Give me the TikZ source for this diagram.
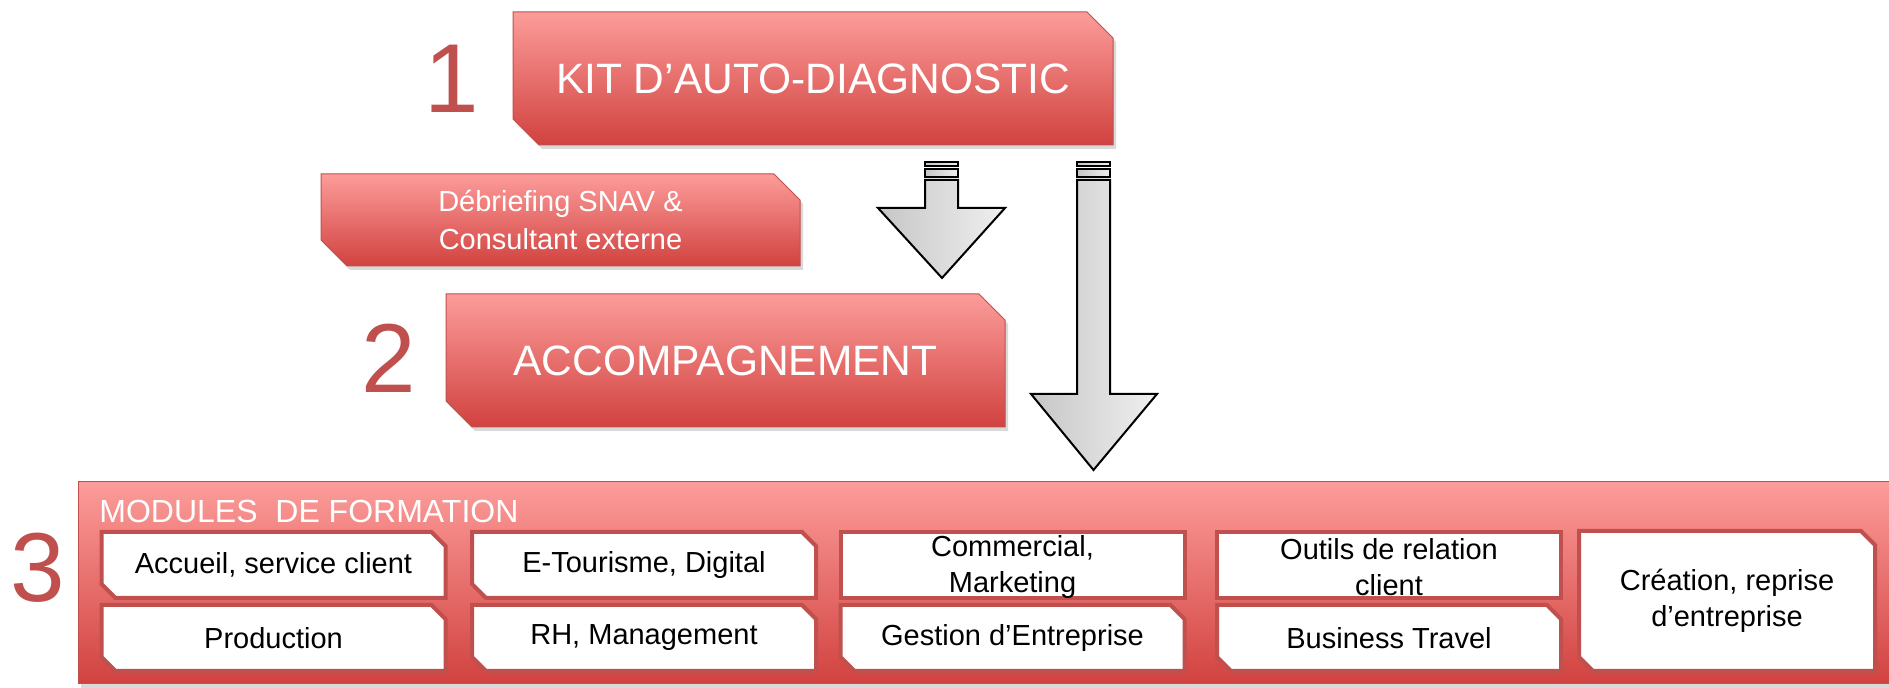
\documentclass[tikz,border=0pt]{standalone}
\usepackage{fontspec}
\setmainfont{Liberation Sans}
\usepackage{xcolor}
\usetikzlibrary{shapes.misc,shadows}

\definecolor{numred}{RGB}{192,80,77}
\definecolor{boxtop}{RGB}{252,156,154}
\definecolor{boxbot}{RGB}{209,66,63}
\definecolor{boxline}{RGB}{192,80,77}

\tikzset{
  redbox/.style={chamfered rectangle, chamfered rectangle corners={north east,south west},
    chamfered rectangle sep=6.5pt, draw=boxline, line width=0.5pt,
    top color=boxtop, bottom color=boxbot, text=white, align=center, inner sep=0pt,
    drop shadow={shadow xshift=1.5pt, shadow yshift=-2pt, opacity=0.3}},
  modbox/.style={chamfered rectangle, chamfered rectangle corners={north east,south west},
    chamfered rectangle sep=3.5pt, draw=boxline, line width=2pt, fill=white,
    align=center, inner sep=0pt, minimum width=172pt, minimum height=33pt,
    font=\fontsize{14.5}{18}\selectfont},
  modtext/.style={align=center, inner sep=0pt, font=\fontsize{14.5}{18}\selectfont},
  bignum/.style={text=numred, inner sep=0pt, font=\fontsize{49}{49}\selectfont},
  blockarrow/.style={draw=black, line width=1pt, left color=gray!45, right color=gray!12}
}

\begin{document}
\begin{tikzpicture}[x=0.5pt,y=-0.5pt]
\useasboundingbox (0,0) rectangle (1889,688);

% step 1
\node[redbox, minimum width=300pt, minimum height=66.5pt, font=\fontsize{21.25}{25}\selectfont] (kit) at (813,78.5) {KIT D’AUTO-DIAGNOSTIC};
\node[bignum] (n1) at (452,79) {1};

% debriefing and step 2
\node[redbox, minimum width=239.5pt, minimum height=46pt, font=\fontsize{14.5}{19}\selectfont] (debrief) at (560.5,220) {Débriefing SNAV \&\\Consultant externe};
\node[redbox, minimum width=279.5pt, minimum height=66.5pt, font=\fontsize{21.25}{25}\selectfont] (accomp) at (725.5,360.5) {ACCOMPAGNEMENT};
\node[bignum] (n2) at (389,358) {2};

% block arrows
\draw[blockarrow] (925,180) -- (925,208) -- (878,208) -- (942,278) -- (1005,208) -- (958,208) -- (958,180) -- cycle;
\draw[blockarrow] (925,169) rectangle (958,177);
\draw[blockarrow] (925,162) rectangle (958,166);
\draw[blockarrow] (1077,180) -- (1077,394) -- (1031,394) -- (1093.5,470) -- (1157,394) -- (1110,394) -- (1110,180) -- cycle;
\draw[blockarrow] (1077,169) rectangle (1110,177);
\draw[blockarrow] (1077,162) rectangle (1110,166);

% step 3
\node[redbox, chamfered rectangle sep=9pt, minimum width=907pt, minimum height=101pt] (modules) at (985,583) {};
\node[text=white, anchor=base west, inner sep=0pt, font=\fontsize{16}{16}\selectfont] (title) at (99,523) {MODULES~~DE FORMATION};
\node[bignum] (n3) at (38,568) {3};

\node[modbox] (m1) at (273.5,565) {Accueil, service client};
\node[modbox] (m2) at (644,565) {E-Tourisme, Digital};
\node[modbox] (m3) at (1012.5,565) {};
\node[modtext] (m3t) at (1012.5,567) {Commercial,\\Marketing};
\node[modbox] (m4) at (1389,565) {};
\node[modtext] (m4t) at (1389,567) {Outils de relation\\client};
\node[modbox] (m5) at (273.5,638) {Production};
\node[modbox] (m6) at (644,638) {RH, Management};
\node[modbox] (m7) at (1012.5,638) {Gestion d’Entreprise};
\node[modbox] (m8) at (1389,638) {Business Travel};
\node[modbox, minimum width=148pt, minimum height=70pt] (m9) at (1727,601) {Création, reprise\\d’entreprise};
\end{tikzpicture}
\end{document}
